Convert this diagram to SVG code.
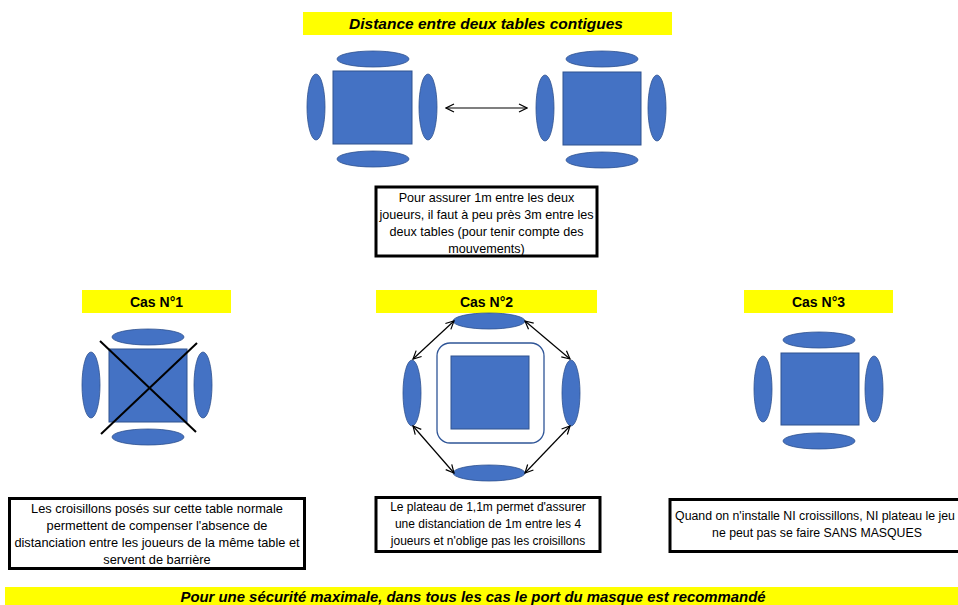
<svg xmlns="http://www.w3.org/2000/svg" width="958" height="605" viewBox="0 0 958 605">
<style>
.bar{fill:#FFFF00}
.t{fill:#4472C4;stroke:#2F528F;stroke-width:1}
.c{fill:#4472C4;stroke:#2F528F;stroke-width:0.8}
.box{fill:#fff;stroke:#000;stroke-width:3}
.h{font-family:"Liberation Sans",Arial,sans-serif;font-weight:bold;font-size:14px;text-anchor:middle;fill:#000}
.hi{font-style:italic}
.p{font-family:"Liberation Sans",Arial,sans-serif;text-anchor:middle;fill:#000}
.p1{font-size:12.6px}
.p2{font-size:12.8px}
.p3{font-size:12px}
.p4{font-size:12.3px}
.ln{stroke:#000;stroke-width:1.2;fill:none;marker-start:url(#a);marker-end:url(#a)}
</style>
<defs>
<marker id="a" viewBox="0 0 10 10" refX="9" refY="5" markerWidth="10" markerHeight="10" markerUnits="userSpaceOnUse" orient="auto-start-reverse">
<path d="M1,1 L9,5 L1,9" fill="none" stroke="#000" stroke-width="1.2"/>
</marker>
</defs>
<rect width="958" height="605" fill="#fff"/>

<g id="title">
<rect class="bar" x="303" y="12" width="369" height="23"/>
<text class="h hi" x="486" y="29" style="font-size:15.5px">Distance entre deux tables contigues</text>
</g>

<g id="table-left">
<rect class="t" x="333" y="71" width="79" height="73"/>
<ellipse class="c" cx="373" cy="59" rx="36" ry="8"/>
<ellipse class="c" cx="373" cy="159" rx="36" ry="8"/>
<ellipse class="c" cx="316" cy="107" rx="9" ry="33"/>
<ellipse class="c" cx="428" cy="107" rx="9" ry="33"/>
</g>

<g id="table-right">
<rect class="t" x="563" y="72" width="78" height="73"/>
<ellipse class="c" cx="602" cy="59" rx="36" ry="8"/>
<ellipse class="c" cx="602" cy="160" rx="36" ry="8"/>
<ellipse class="c" cx="545" cy="108" rx="9" ry="33"/>
<ellipse class="c" cx="657" cy="108" rx="9" ry="33"/>
</g>

<g id="note-top">
<rect class="box" x="376" y="187" width="221" height="69"/>
<text class="p p1" x="486.5" y="202">Pour assurer 1m entre les deux</text>
<text class="p p1" x="486.5" y="219">joueurs, il faut à peu près 3m entre les</text>
<text class="p p1" x="486.5" y="236">deux tables (pour tenir compte des</text>
<text class="p p1" x="486.5" y="253">mouvements)</text>
</g>

<g id="cas1">
<rect class="bar" x="82" y="290" width="149" height="23"/>
<text class="h" x="156.5" y="307">Cas N°1</text>
<rect class="t" x="109" y="349" width="78" height="73"/>
<ellipse class="c" cx="148" cy="337" rx="36" ry="8"/>
<ellipse class="c" cx="148" cy="437" rx="36" ry="8"/>
<ellipse class="c" cx="91" cy="385" rx="9" ry="33"/>
<ellipse class="c" cx="203" cy="385" rx="9" ry="33"/>
<line x1="100" y1="341" x2="196" y2="432" stroke="#000" stroke-width="2"/>
<line x1="197" y1="343" x2="101" y2="434" stroke="#000" stroke-width="2"/>
</g>

<g id="cas2">
<rect class="bar" x="376" y="290" width="221" height="23"/>
<text class="h" x="486.5" y="307">Cas N°2</text>
<rect x="437" y="343" width="107" height="100" rx="13" fill="#fff" stroke="#2F5597" stroke-width="1.3"/>
<rect class="t" x="451" y="356" width="78" height="73"/>
<ellipse class="c" cx="489" cy="321" rx="36" ry="8"/>
<ellipse class="c" cx="489" cy="473" rx="36" ry="8"/>
<ellipse class="c" cx="412" cy="393" rx="9" ry="33"/>
<ellipse class="c" cx="571" cy="393" rx="9" ry="33"/>
</g>

<g id="cas3">
<rect class="bar" x="744" y="290" width="149" height="23"/>
<text class="h" x="818.5" y="307">Cas N°3</text>
<rect class="t" x="781" y="353" width="78" height="72"/>
<ellipse class="c" cx="819" cy="340" rx="36" ry="8"/>
<ellipse class="c" cx="819" cy="441" rx="36" ry="8"/>
<ellipse class="c" cx="763" cy="389" rx="9" ry="33"/>
<ellipse class="c" cx="874" cy="389" rx="9" ry="33"/>
</g>

<g id="connectors">
<line class="ln" x1="446" y1="108" x2="527" y2="108"/>
<line class="ln" x1="454" y1="321" x2="413" y2="359"/>
<line class="ln" x1="525" y1="321" x2="570" y2="359"/>
<line class="ln" x1="413" y1="426" x2="454" y2="473"/>
<line class="ln" x1="570" y1="426" x2="525" y2="473"/>
</g>

<g id="note-cas1">
<rect class="box" x="9.5" y="498.5" width="295" height="70"/>
<text class="p p2" x="157" y="513">Les croisillons posés sur cette table normale</text>
<text class="p p2" x="157" y="530">permettent de compenser l'absence de</text>
<text class="p p2" x="157" y="547">distanciation entre les joueurs de la même table et</text>
<text class="p p2" x="157" y="564">servent de barrière</text>
</g>

<g id="note-cas2">
<rect class="box" x="376" y="497.5" width="224" height="54"/>
<text class="p p3" x="488" y="511">Le plateau de 1,1m permet d'assurer</text>
<text class="p p3" x="488" y="528">une distanciation de 1m entre les 4</text>
<text class="p p3" x="488" y="545">joueurs et n'oblige pas les croisillons</text>
</g>

<g id="note-cas3">
<rect class="box" x="670" y="499.5" width="300" height="52"/>
<text class="p p4" x="815" y="520">Quand on n'installe NI croissillons, NI plateau le jeu</text>
<text class="p p4" x="817" y="537">ne peut pas se faire SANS MASQUES</text>
</g>

<g id="footer">
<rect class="bar" x="5" y="587" width="953" height="18"/>
<text class="h hi" x="473" y="601.5" style="font-size:14.9px">Pour une sécurité maximale, dans tous les cas le port du masque est recommandé</text>
</g>
</svg>
